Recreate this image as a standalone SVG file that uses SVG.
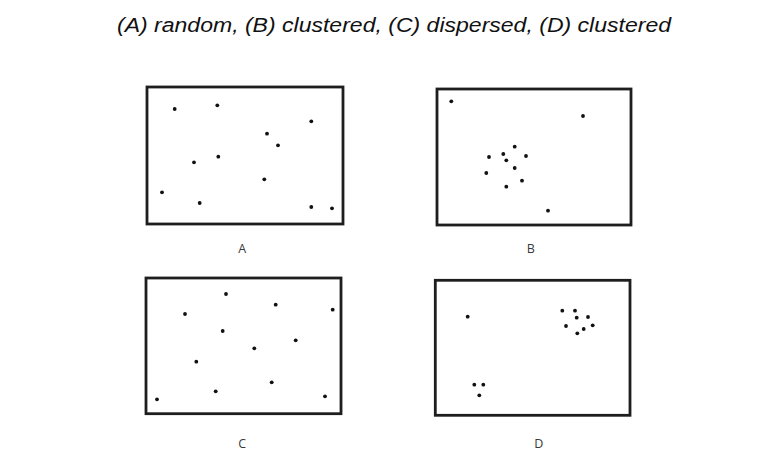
<svg xmlns="http://www.w3.org/2000/svg" width="758" height="476" viewBox="0 0 758 476">
<style>
.frame{fill:#fff;stroke:#1e1e1e;stroke-width:2.8}
.dot{fill:#111}
.lbl{font-family:"Open Sans","Liberation Sans",sans-serif;font-size:12.5px;fill:#3a3a3a;text-anchor:middle}
.title{font-family:"Liberation Sans",Arial,sans-serif;font-style:italic;font-size:20px;fill:#111}
</style>
<defs><circle id="d" r="1.9" class="dot"/></defs>
<rect width="758" height="476" fill="#fff"/>
<text class="title" x="117" y="32" textLength="554" lengthAdjust="spacingAndGlyphs">(A) random, (B) clustered, (C) dispersed, (D) clustered</text>
<g id="panelA">
<rect class="frame" x="147" y="87" width="196" height="137"/>
<use href="#d" x="174.7" y="109"/><use href="#d" x="217.3" y="105.3"/><use href="#d" x="311.3" y="121.3"/>
<use href="#d" x="267" y="133.7"/><use href="#d" x="278" y="145.3"/><use href="#d" x="194" y="162.3"/>
<use href="#d" x="218.3" y="156.7"/><use href="#d" x="264.3" y="179.3"/><use href="#d" x="162" y="192.3"/>
<use href="#d" x="199.7" y="203"/><use href="#d" x="311.3" y="207"/><use href="#d" x="332" y="208.3"/>
<text class="lbl" x="242.3" y="252.5">A</text>
</g>
<g id="panelB">
<rect class="frame" x="437" y="89" width="194" height="136"/>
<use href="#d" x="451.3" y="101.3"/><use href="#d" x="583" y="116"/><use href="#d" x="514.7" y="146.7"/>
<use href="#d" x="489" y="157"/><use href="#d" x="503.3" y="154"/><use href="#d" x="506.3" y="160.3"/>
<use href="#d" x="526" y="156"/><use href="#d" x="514.7" y="168"/><use href="#d" x="486.3" y="173"/>
<use href="#d" x="522" y="180.7"/><use href="#d" x="506.3" y="186.7"/><use href="#d" x="548" y="210.7"/>
<text class="lbl" x="530.8" y="253.3">B</text>
</g>
<g id="panelC">
<rect class="frame" x="146" y="278" width="195" height="135.7"/>
<use href="#d" x="226" y="294"/><use href="#d" x="275.7" y="304.7"/><use href="#d" x="332.7" y="309.7"/>
<use href="#d" x="185" y="314"/><use href="#d" x="222.7" y="331"/><use href="#d" x="295.7" y="340.3"/>
<use href="#d" x="254.3" y="348.3"/><use href="#d" x="196.3" y="361.7"/><use href="#d" x="271.7" y="382.3"/>
<use href="#d" x="215.7" y="391.3"/><use href="#d" x="157" y="399.3"/><use href="#d" x="325" y="396.3"/>
<text class="lbl" x="242.3" y="447.5">C</text>
</g>
<g id="panelD">
<rect class="frame" x="435.3" y="280.3" width="194.7" height="135"/>
<use href="#d" x="467.7" y="316.7"/><use href="#d" x="562.3" y="310.7"/><use href="#d" x="575" y="310.7"/>
<use href="#d" x="576.7" y="317.7"/><use href="#d" x="588" y="317"/><use href="#d" x="566" y="326"/>
<use href="#d" x="577.3" y="333.3"/><use href="#d" x="583.7" y="329"/><use href="#d" x="592.7" y="325.3"/>
<use href="#d" x="474.3" y="384.7"/><use href="#d" x="483.3" y="384.7"/><use href="#d" x="479.3" y="395.3"/>
<text class="lbl" x="538.7" y="447.5">D</text>
</g>
<g id="connectors"/>
</svg>
